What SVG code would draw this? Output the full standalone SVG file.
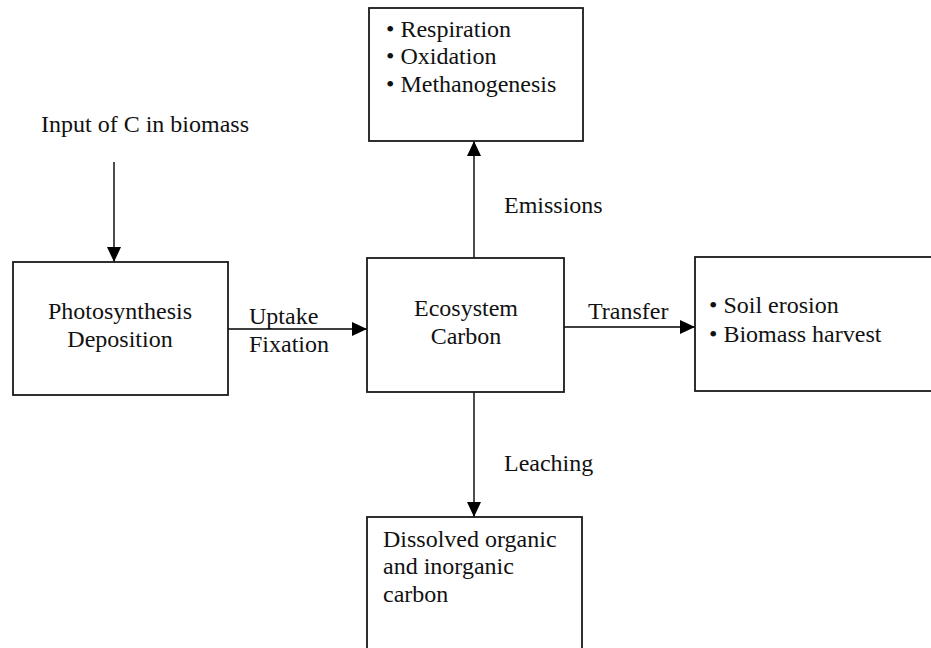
<svg xmlns="http://www.w3.org/2000/svg" width="931" height="648" viewBox="0 0 931 648" font-family="'Liberation Serif', Tinos, 'Times New Roman', 'DejaVu Serif', serif">
<style>
  .box { fill: #ffffff; stroke: #1a1a1a; stroke-width: 1.8; }
  .line { stroke: #000000; stroke-width: 1.4; fill: none; marker-end: url(#arrow); }
  text { font-family: 'Liberation Serif', Tinos, 'Times New Roman', 'DejaVu Serif', serif; font-size: 24px; fill: #111111; }
  .c { text-anchor: middle; }
</style>
<defs>
  <marker id="arrow" markerUnits="userSpaceOnUse" markerWidth="16" markerHeight="16" refX="15" refY="7" orient="auto">
    <path d="M0,0 L15,7 L0,14 z" fill="#000000"/>
  </marker>
</defs>
<rect width="931" height="648" fill="#ffffff"/>

<g id="connectors">
  <line class="line" x1="114" y1="162" x2="114" y2="262"/>
  <line class="line" x1="228" y1="329" x2="367" y2="329"/>
  <line class="line" x1="474" y1="258" x2="474" y2="141"/>
  <line class="line" x1="564" y1="327" x2="695" y2="327"/>
  <line class="line" x1="474" y1="392" x2="474" y2="517"/>
  <text x="249" y="324">Uptake</text>
  <text x="249" y="352">Fixation</text>
  <text x="504" y="213">Emissions</text>
  <text x="588" y="319">Transfer</text>
  <text x="504" y="471">Leaching</text>
</g>

<g id="input-label">
  <text x="41" y="132">Input of C in biomass</text>
</g>

<g id="emissions-box">
  <rect class="box" x="369" y="8" width="214" height="133"/>
  <text x="386" y="37">• Respiration</text>
  <text x="386" y="64">• Oxidation</text>
  <text x="386" y="92">• Methanogenesis</text>
</g>

<g id="photosynthesis">
  <rect class="box" x="13" y="262" width="215" height="133"/>
  <text class="c" x="120" y="319">Photosynthesis</text>
  <text class="c" x="120" y="347">Deposition</text>
</g>

<g id="ecosystem-carbon">
  <rect class="box" x="367" y="258" width="197" height="134"/>
  <text class="c" x="466" y="316">Ecosystem</text>
  <text class="c" x="466" y="344">Carbon</text>
</g>

<g id="transfer-box">
  <rect class="box" x="695" y="257" width="260" height="134"/>
  <text x="709" y="313">• Soil erosion</text>
  <text x="709" y="342">• Biomass harvest</text>
</g>

<g id="leaching-box">
  <rect class="box" x="367" y="517" width="215" height="150"/>
  <text x="383" y="547">Dissolved organic</text>
  <text x="383" y="574">and inorganic</text>
  <text x="383" y="602">carbon</text>
</g>
</svg>
